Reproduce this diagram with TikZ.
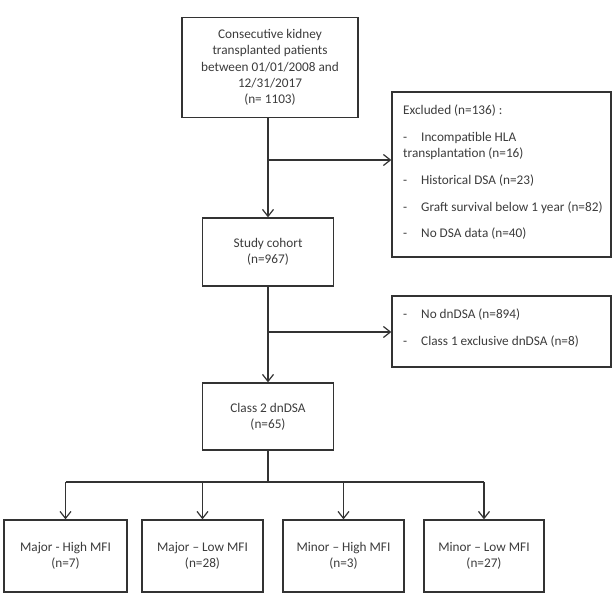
\documentclass[tikz,border=0pt]{standalone}
\usepackage{fontspec}
\setmainfont{Carlito}
\usetikzlibrary{arrows.meta}
\definecolor{linec}{HTML}{333333}
\definecolor{textc}{HTML}{3C3C3C}
\begin{document}
\begin{tikzpicture}[x=1pt,y=-1pt,
  txt/.style={text=textc, font=\fontsize{13.25}{16.2}\selectfont},
  box/.style={draw=linec, line width=1.3pt, align=center, txt, inner sep=0pt},
  conn/.style={draw=linec, line width=1.3pt},
  arr/.style={conn, -{Straight Barb[length=7pt,width=11pt,line width=1.2pt]}},
  listtext/.style={txt, align=left, inner sep=0pt, anchor=north west}
]
\useasboundingbox (0,0) rectangle (612,601);
\fill[white] (0,0) rectangle (612,601);

\node[box, minimum width=176pt, minimum height=100pt] (top) at (270,67.5)
  {Consecutive kidney\\transplanted patients\\between 01/01/2008 and\\12/31/2017\\(n= 1103)};
\node[box, minimum width=219pt, minimum height=165pt] (ex1) at (501.5,174.5) {};
\node[listtext] (ex1t) at (403,105)
  {Excluded (n=136) :\\[10.5pt]
   \makebox[18pt][l]{-}Incompatible HLA\\
   transplantation (n=16)\\[10.5pt]
   \makebox[18pt][l]{-}Historical DSA (n=23)\\[10.5pt]
   \makebox[18pt][l]{-}Graft survival below 1 year (n=82)\\[10.5pt]
   \makebox[18pt][l]{-}No DSA data (n=40)};
\node[box, minimum width=131pt, minimum height=68pt] (cohort) at (268,252)
  {Study cohort\\(n=967)};
\node[box, minimum width=219pt, minimum height=71pt] (ex2) at (501.5,331.5) {};
\node[listtext] (ex2t) at (403,309)
  {\makebox[18pt][l]{-}No dnDSA (n=894)\\[10.5pt]
   \makebox[18pt][l]{-}Class 1 exclusive dnDSA (n=8)};
\node[box, minimum width=131pt, minimum height=67pt] (class2) at (268,416.5)
  {Class 2 dnDSA\\(n=65)};
\node[box, minimum width=123pt, minimum height=72pt] (b1) at (65.5,556) {Major - High MFI\\(n=7)};
\node[box, minimum width=121pt, minimum height=72pt] (b2) at (202.5,556) {Major – Low MFI\\(n=28)};
\node[box, minimum width=121pt, minimum height=72pt] (b3) at (343.5,556) {Minor – High MFI\\(n=3)};
\node[box, minimum width=120pt, minimum height=72pt] (b4) at (484,556) {Minor – Low MFI\\(n=27)};

\coordinate (j1) at (268,160);
\coordinate (j2) at (268,332);
\coordinate (j3) at (268,482);
\draw[conn] (top.south -| j1) -- (j1);
\draw[arr] (j1) -- (cohort.north);
\draw[arr] (j1) -- (j1 -| ex1.west);
\draw[conn] (cohort.south) -- (j2);
\draw[arr] (j2) -- (class2.north);
\draw[arr] (j2) -- (j2 -| ex2.west);
\draw[conn] (class2.south) -- (j3);
\draw[conn] (b1.north |- j3) -- (b4.north |- j3);
\foreach \b in {b1,b2,b3,b4} \draw[arr] (\b.north |- j3) -- (\b.north);
\end{tikzpicture}
\end{document}
